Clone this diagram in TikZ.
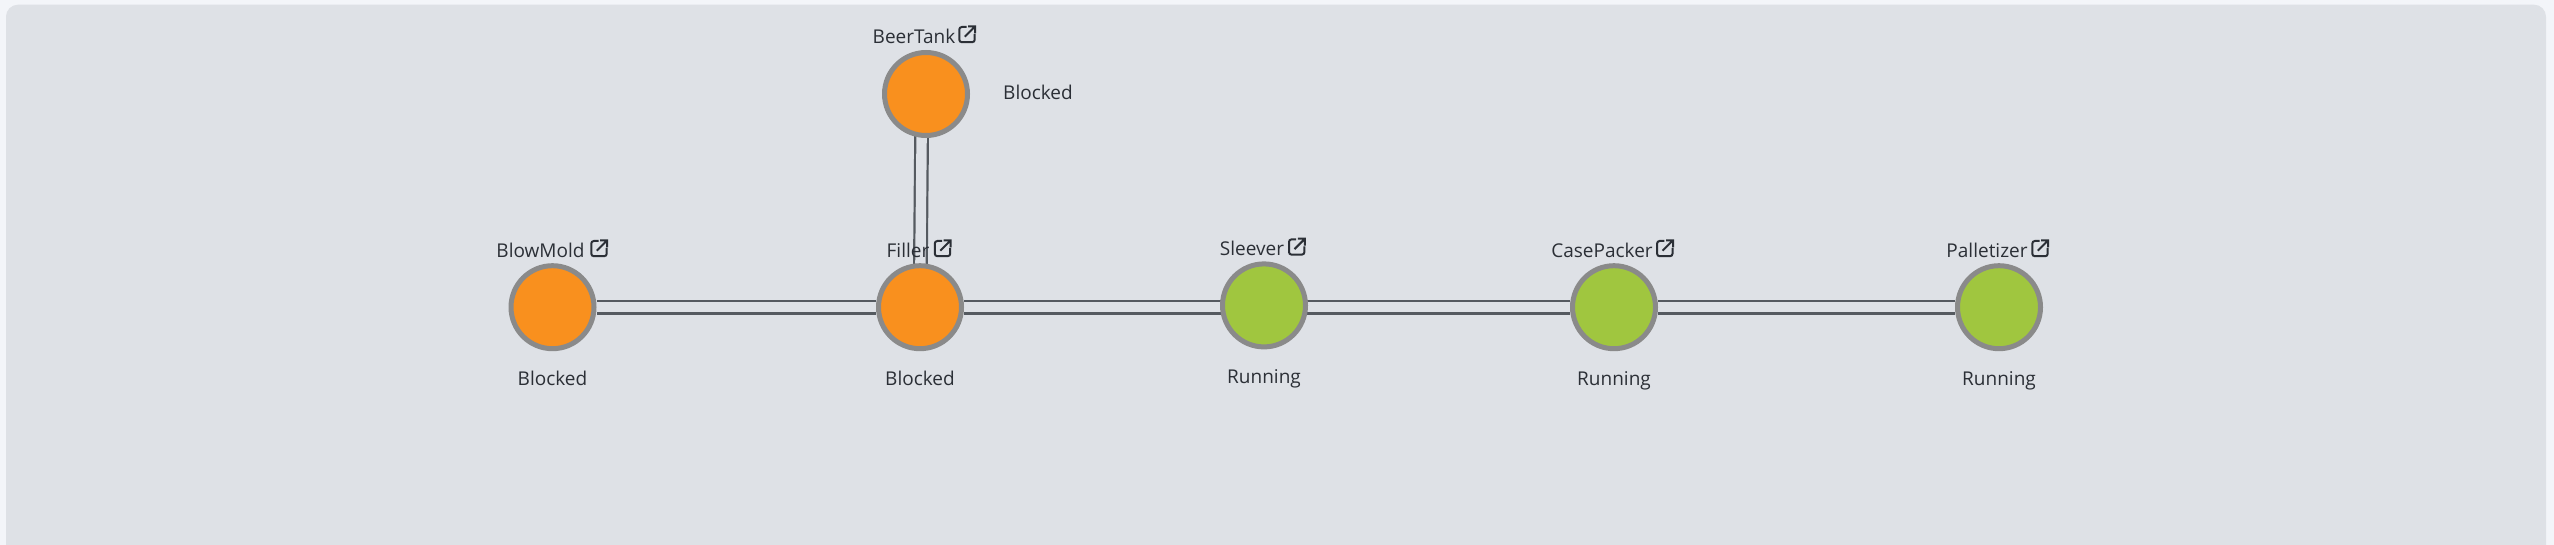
\documentclass[tikz,border=0pt]{standalone}
\usepackage{fontspec}
\setmainfont{Open Sans}
\usetikzlibrary {positioning,backgrounds}
\definecolor{pagebg}{HTML}{F3F5F9}
\definecolor{panelbg}{HTML}{DEE1E6}
\definecolor{blockedc}{HTML}{F9901E}
\definecolor{runningc}{HTML}{A0C63F}
\definecolor{ringc}{HTML}{8A8A8A}
\definecolor{pipec}{HTML}{555A60}
\definecolor{textc}{HTML}{2B2F36}

\begin{document}
\begin{tikzpicture}[x=1pt,y=1pt,on grid,
    machine/.style ={ circle , draw=ringc , line width=5pt , inner sep=0pt , minimum size=83pt},
    blocked/.style={machine,fill=blockedc},
    running/.style={machine,fill=runningc},
    lbl/.style={font=\fontsize{19}{22}\selectfont,text=textc,inner sep=0pt,text height=15pt,text depth=5pt},
    link/.style={rectangle,inner sep=0pt,minimum size=19pt,
      path picture={
        \draw[textc,line width=2pt,rounded corners=2.5pt]
          (-0.5,7.5) -- (-7.7,7.5) -- (-7.7,-7.7) -- (7.7,-7.7) -- (7.7,0.5);
        \draw[textc,line width=2pt]
          (-2.2,-2.2) -- (7.8,7.8) (1.2,8.2) -- (8.2,8.2) -- (8.2,1.2);
      }},
    pipe/.style={draw=pipec,line width=2.2pt,double=panelbg,double distance=10.4pt}
    ]
    \useasboundingbox (0,-545) rectangle (2554,0);

    \node[blocked] (BlowMold) at (552.5,-307.2) {};
    \node[blocked] (Filler) [right = 367.5pt of BlowMold] {};
    \node[blocked] (BeerTank) [above right = 213.2pt and 6pt of Filler] {};
    \node[running] (Sleever) [right = 344pt of Filler, yshift=1.8pt] {};
    \node[running] (CasePacker) [right = 694pt of Filler] {};
    \node[running] (Palletizer) [right = 385pt of CasePacker] {};

    \node[lbl] (BlowMoldName) [above left = 55pt and 12pt of BlowMold] {BlowMold};
    \node[lbl] (FillerName) [above left = 55pt and 12pt of Filler] {Filler};
    \node[lbl] (BeerTankName) [above left = 55pt and 12pt of BeerTank] {BeerTank};
    \node[lbl] (SleeverName) [above left = 55pt and 12pt of Sleever] {Sleever};
    \node[lbl] (CasePackerName) [above left = 55pt and 12pt of CasePacker] {CasePacker};
    \node[lbl] (PalletizerName) [above left = 55pt and 12pt of Palletizer] {Palletizer};

    \node[link] (BlowMoldLink) [above right = 58.7pt and 46.5pt of BlowMold] {};
    \node[link] (FillerLink) [above right = 58.7pt and 22.5pt of Filler] {};
    \node[link] (BeerTankLink) [above right = 59.5pt and 41pt of BeerTank] {};
    \node[link] (SleeverLink) [above right = 58.5pt and 32.7pt of Sleever] {};
    \node[link] (CasePackerLink) [above right = 58.7pt and 50.8pt of CasePacker] {};
    \node[link] (PalletizerLink) [above right = 58.7pt and 41pt of Palletizer] {};

    \node[lbl] (BlowMoldState) [below = 73pt of BlowMold] {Blocked};
    \node[lbl] (FillerState) [below = 73pt of Filler] {Blocked};
    \node[lbl] (BeerTankState) [below right = 1pt and 112pt of BeerTank] {Blocked};
    \node[lbl] (SleeverState) [below = 73pt of Sleever] {Running};
    \node[lbl] (CasePackerState) [below = 73pt of CasePacker] {Running};
    \node[lbl] (PalletizerState) [below = 73pt of Palletizer] {Running};

    \begin{scope}[on background layer]
    \fill[pagebg] (0,-545) rectangle (2554,0);
    \fill[panelbg,rounded corners=12pt] (6,-570) rectangle (2546,-4.7);
    \draw[pipe] ([xshift=-4pt]BeerTank.center) -- (Filler.center);
    \draw[pipe] (BlowMold) -- (Filler);
    \draw[pipe] (Filler) -- (Filler -| Sleever);
    \draw[pipe] (Sleever |- CasePacker) -- (CasePacker);
    \draw[pipe] (CasePacker) -- (Palletizer);
    \end{scope}
    \end{tikzpicture}
\end{document}
